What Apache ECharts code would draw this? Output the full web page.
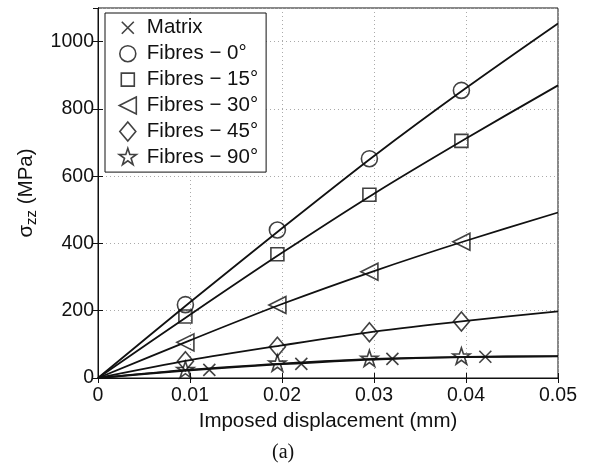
<!DOCTYPE html>
<html><head><meta charset="utf-8">
<script src="https://cdn.jsdelivr.net/npm/echarts@6/dist/echarts.min.js"></script>
<style>html,body{margin:0;padding:0;background:#fff}#c{width:590px;height:463px}</style>
</head><body><div id="c"></div>
<script>
// ---- data ----
const seriesNames = ['Matrix', 'Fibres − 0°', 'Fibres − 15°', 'Fibres − 30°', 'Fibres − 45°', 'Fibres − 90°'];
const markerXFibres = [0.0095, 0.0195, 0.0295, 0.0395];
const markerXMatrix = [0.0121, 0.0221, 0.0320, 0.0421];
const markMatrix = [24, 42, 57, 63];
const mark0 = [218, 440, 652, 855];
const mark15 = [183, 368, 545, 705];
const mark30 = [106, 217, 316, 405];
const mark45 = [50, 93, 136, 168];
const mark90 = [23, 42, 56, 63];
const lineX = [0, 0.01, 0.02, 0.03, 0.04, 0.05];
const lineMatrix = [0, 23, 41, 55, 62, 64];
const line0 = [0, 225, 445, 660, 862, 1054];
const line15 = [0, 188, 372, 548, 712, 870];
const line30 = [0, 112, 220, 318, 408, 492];
const line45 = [0, 53, 97, 138, 170, 198];
const line90 = [0, 25, 43, 57, 63, 65];
const xTicks = [0, 0.01, 0.02, 0.03, 0.04, 0.05];
const yTicks = [0, 200, 400, 600, 800, 1000];

const FONT = 'Liberation Sans, Arial, Helvetica, sans-serif';
const pairs = (xs, ys) => xs.map((x, i) => [x, ys[i]]);
// all marker shapes drawn inside a common 20x20 frame (zero-length corner segments)
const FRAME = 'M0,0 L0,0 M20,20 L20,20 ';
const SYM = {
  x: 'path://' + FRAME + 'M4,4 L16,16 M4,16 L16,4',
  circle: 'path://' + FRAME + 'M2,10 A8,8 0 1,1 18,10 A8,8 0 1,1 2,10 Z',
  square: 'path://' + FRAME + 'M3.5,3.5 L16.5,3.5 L16.5,16.5 L3.5,16.5 Z',
  triLeft: 'path://' + FRAME + 'M18.5,1.5 L1.5,10 L18.5,18.5 Z',
  diamond: 'path://' + FRAME + 'M10,0.5 L18,10 L10,19.5 L2,10 Z',
  star: 'path://' + FRAME + 'M10,1 L12.02,7.22 L18.56,7.22 L13.27,11.06 L15.29,17.28 L10,13.44 L4.71,17.28 L6.73,11.06 L1.44,7.22 L7.98,7.22 Z'
};

const markerDefs = [
  { name: seriesNames[0], xs: markerXMatrix, ys: markMatrix, symbol: SYM.x },
  { name: seriesNames[1], xs: markerXFibres, ys: mark0, symbol: SYM.circle },
  { name: seriesNames[2], xs: markerXFibres, ys: mark15, symbol: SYM.square },
  { name: seriesNames[3], xs: markerXFibres, ys: mark30, symbol: SYM.triLeft },
  { name: seriesNames[4], xs: markerXFibres, ys: mark45, symbol: SYM.diamond },
  { name: seriesNames[5], xs: markerXFibres, ys: mark90, symbol: SYM.star }
];
const lines = [lineMatrix, line0, line15, line30, line45, line90];

const series = [];
lines.forEach(l => series.push({
  type: 'line', data: pairs(lineX, l), smooth: 0.3, showSymbol: false, silent: true,
  lineStyle: { color: '#111', width: 1.8 }, z: 2
}));
markerDefs.forEach(m => series.push({
  type: 'scatter', name: m.name, data: pairs(m.xs, m.ys), symbol: m.symbol, symbolSize: 20,
  itemStyle: { color: 'rgba(0,0,0,0)', borderColor: '#111', borderWidth: 1.6 }, z: 3
}));

const gridLine = { show: true, lineStyle: { color: '#aaa', type: [1, 3], width: 1 } };
const chart = echarts.init(document.getElementById('c'), null, { renderer: 'canvas' });
chart.setOption({
  animation: false,
  backgroundColor: '#fff',
  grid: { left: 98, top: 8, width: 460, height: 370, show: true, borderColor: '#111', borderWidth: 1, containLabel: false },
  legend: {
    orient: 'vertical', left: 105, top: 13, data: seriesNames,
    backgroundColor: '#fff', borderColor: '#111', borderWidth: 1, padding: [4, 8, 4, 12],
    itemWidth: 20, itemHeight: 20, itemGap: 4.3,
    itemStyle: { color: 'rgba(0,0,0,0)', borderColor: '#111', borderWidth: 1.6 },
    textStyle: { fontFamily: FONT, fontSize: 20.5, color: '#111', padding: [0, 0, 0, 4] }
  },
  xAxis: [{
    type: 'value', min: 0, max: 0.05, interval: 0.01,
    name: 'Imposed displacement (mm)', nameLocation: 'middle', nameGap: 23,
    nameTextStyle: { fontFamily: FONT, fontSize: 20.5, color: '#111' },
    axisLine: { show: true, lineStyle: { color: '#111' } },
    axisTick: { show: true, inside: true, length: 5, lineStyle: { color: '#111' } },
    axisLabel: { fontFamily: FONT, fontSize: 19.5, color: '#111', margin: 8, formatter: v => xTicks.includes(+v.toFixed(2)) ? (v === 0 ? '0' : v.toFixed(2)) : '' },
    splitLine: gridLine
  }, {
    type: 'value', position: 'top', min: 0, max: 0.05, interval: 0.01,
    axisLine: { show: true, lineStyle: { color: '#111' } },
    axisTick: { show: true, inside: true, length: 5, lineStyle: { color: '#111' } },
    axisLabel: { show: false }, splitLine: { show: false }
  }],
  yAxis: [{
    type: 'value', min: 0, max: 1100, interval: 200,
    name: '{s|σ}{sub|zz}{s| (MPa)}', nameLocation: 'middle', nameGap: 56, nameRotate: 90,
    nameTextStyle: { fontFamily: FONT, fontSize: 20.5, color: '#111',
      rich: { s: { fontFamily: FONT, fontSize: 20.5, color: '#111' },
              sub: { fontFamily: FONT, fontSize: 15, color: '#111', padding: [12, 0, 0, 0] } } },
    axisLine: { show: true, lineStyle: { color: '#111' } },
    axisTick: { show: true, inside: true, length: 5, lineStyle: { color: '#111' } },
    axisLabel: { fontFamily: FONT, fontSize: 19.5, color: '#111', margin: 4, showMaxLabel: false,
      formatter: v => yTicks.includes(v) ? String(v) : '' },
    splitLine: gridLine
  }, {
    type: 'value', position: 'right', min: 0, max: 1100, interval: 200,
    axisLine: { show: true, lineStyle: { color: '#111' } },
    axisTick: { show: true, inside: true, length: 5, lineStyle: { color: '#111' } },
    axisLabel: { show: false }, splitLine: { show: false }
  }],
  graphic: [{
    type: 'text', left: 272, top: 443,
    style: { text: '(a)', font: '20px "Liberation Serif", "DejaVu Serif", serif', fill: '#111' }
  }],
  series: series
});
</script></body></html>
